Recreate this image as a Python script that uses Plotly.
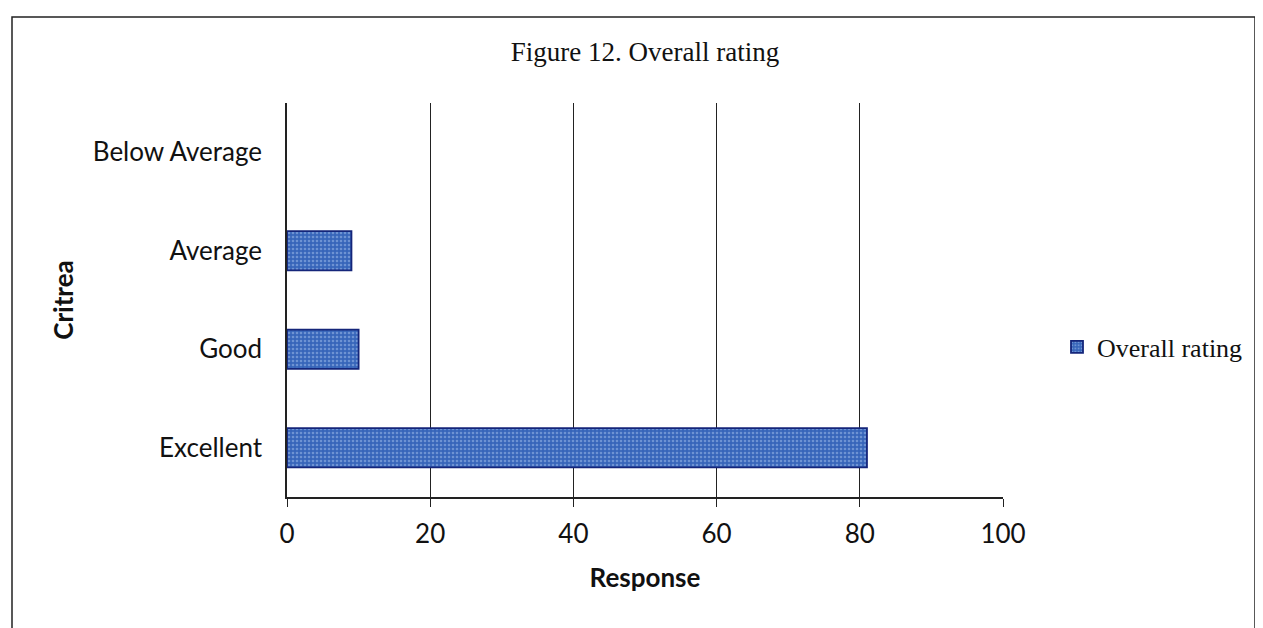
import plotly.graph_objects as go

categories = ["Excellent", "Good", "Average", "Below Average"]
values = [81, 10, 9, 0]
series_name = "Overall rating"
x_ticks = [0, 20, 40, 60, 80, 100]

# page body has an 8px margin, so the figure is laid out 8px smaller/shifted
W, H, OFF = 1255, 620, 8
L, R_EDGE, T, B_EDGE = 287 - OFF, 1003 - OFF, 103 - OFF, 497 - OFF
PW, PH = R_EDGE - L, B_EDGE - T

fig = go.Figure()
fig.add_trace(go.Bar(
    y=categories, x=values, orientation="h", name=series_name,
    marker=dict(
        color="#3765ba",
        line=dict(color="#14257a", width=[1.8 if v > 0 else 0 for v in values]),
        pattern=dict(shape=".", fgcolor="#a6c2ec", size=4, solidity=0.35),
    ),
    width=0.4,
    showlegend=True,
))

fig.update_layout(
    width=W, height=H,
    margin=dict(l=L, r=W - R_EDGE, t=T, b=H - B_EDGE, autoexpand=False),
    paper_bgcolor="white", plot_bgcolor="white",
    title=dict(text="Figure 12. Overall rating", x=(645 - OFF) / W, xanchor="center",
               y=1 - (52 - OFF) / H, yanchor="middle",
               font=dict(family="Liberation Serif", size=27, color="#111")),
    xaxis=dict(range=[0, 100], tickvals=x_ticks, showgrid=True, gridcolor="#222", gridwidth=1,
               showline=True, linecolor="#222", linewidth=1.5, ticks="outside", ticklen=8,
               tickcolor="#222", zeroline=False, ticklabelstandoff=5,
               tickfont=dict(family="Lato", size=26, color="#111"),
               title=dict(text="<b>Response</b>", font=dict(family="Lato", size=26, color="#111"), standoff=21)),
    yaxis=dict(categoryorder="array", categoryarray=categories, showline=True, linecolor="#222",
               linewidth=1.5, ticks="", showgrid=False, zeroline=False,
               tickfont=dict(family="Lato", size=26, color="#111"), ticklabelstandoff=18,
               title=dict(text="<b>Critrea</b>", font=dict(family="Lato", size=26, color="#111"), standoff=12)),
    legend=dict(x=(1057 - OFF - L) / PW, y=1 - (347 - 103) / PH, xanchor="left", yanchor="middle",
                bgcolor="rgba(0,0,0,0)",
                font=dict(family="Liberation Serif", size=26, color="#111"), itemwidth=30),
    shapes=[dict(type="rect", xref="paper", yref="paper",
                 x0=(12 - 287) / PW, x1=(1255 - 287) / PW,
                 y0=(497 - 640) / PH, y1=(497 - 17) / PH,
                 line=dict(color="#222", width=1.5), fillcolor="rgba(0,0,0,0)", layer="below")],
)

fig.write_html("out.html")
